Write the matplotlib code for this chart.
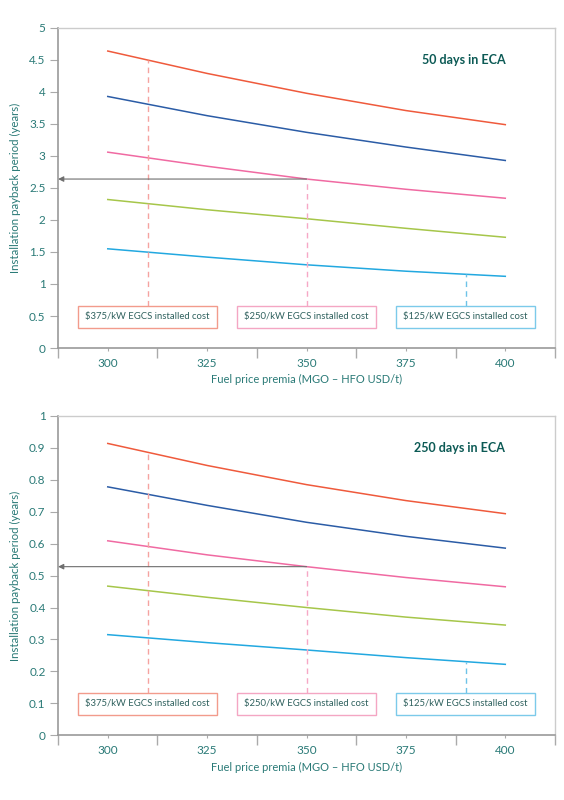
import matplotlib
matplotlib.use("Agg")
import matplotlib.pyplot as plt
from matplotlib.patches import Rectangle
import numpy as np

plt.rcParams["font.family"] = ["Lato", "DejaVu Sans"]

# fuel price premia (MGO - HFO USD/t)
premia = [300, 325, 350, 375, 400]

# payback period (years), 50 days in ECA
cost_375_50 = [4.64, 4.29, 3.98, 3.71, 3.49]
cost_312_50 = [3.93, 3.63, 3.37, 3.14, 2.93]
cost_250_50 = [3.06, 2.84, 2.64, 2.48, 2.34]
cost_187_50 = [2.32, 2.16, 2.02, 1.87, 1.73]
cost_125_50 = [1.55, 1.42, 1.30, 1.20, 1.12]

# payback period (years), 250 days in ECA
cost_375_250 = [0.914, 0.845, 0.785, 0.735, 0.694]
cost_312_250 = [0.778, 0.720, 0.667, 0.623, 0.586]
cost_250_250 = [0.609, 0.565, 0.528, 0.494, 0.465]
cost_187_250 = [0.467, 0.432, 0.400, 0.370, 0.345]
cost_125_250 = [0.315, 0.290, 0.267, 0.243, 0.222]

box_labels = ["$375/kW EGCS installed cost", "$250/kW EGCS installed cost", "$125/kW EGCS installed cost"]
marker_x = [310, 350, 390]

red = "#ef5a3c"
blue = "#2b5ca6"
pink = "#f06aa2"
green = "#a6c64a"
cyan = "#22a8e0"
teal = "#2a7a77"
dark_teal = "#0c5a55"

fig = plt.figure(figsize=(5.64, 8), dpi=100)


def draw_panel(ax, series, ymax, ystep, title):
    colors = [red, blue, pink, green, cyan]
    for ys, c in zip(series, colors):
        ax.plot(premia, ys, color=c, lw=1.1)

    ax.set_xlim(287.5, 412.5)
    ax.set_ylim(0, ymax)
    ax.set_xticks(premia)
    ax.set_xticks(np.arange(287.5, 413, 25), minor=True)
    ax.set_yticks(np.arange(0, ymax + ystep / 2, ystep))
    ax.set_yticklabels([f"{v:g}" for v in np.arange(0, ymax + ystep / 2, ystep)])
    ax.tick_params(axis="x", which="major", length=2, color="#aaaaaa", labelsize=8.5, labelcolor=teal, pad=5)
    ax.tick_params(axis="x", which="minor", length=7, color="#aaaaaa", width=1)
    ax.tick_params(axis="y", length=6, color="#aaaaaa", labelsize=8.5, labelcolor=teal, pad=3)

    for s in ["left", "bottom"]:
        ax.spines[s].set_color("#9a9a9a")
        ax.spines[s].set_linewidth(1.2)
    for s in ["top", "right"]:
        ax.spines[s].set_color("#cccccc")
        ax.spines[s].set_linewidth(1)

    ax.set_xlabel("Fuel price premia (MGO \u2013 HFO USD/t)", color=teal, fontsize=8, labelpad=4)
    ax.set_ylabel("Installation payback period (years)", color=teal, fontsize=8.3, labelpad=6)

    ax.text(400, ymax * 0.9, title, ha="right", va="center", fontsize=9, fontweight="bold", color=dark_teal)

    # label boxes and guide lines
    box_lo = ymax * 0.064
    box_hi = ymax * 0.132
    box_edges = ["#f29b8c", "#f4a6c3", "#7ccaea"]
    dash_cols = ["#f5a3a0", "#f6a8c6", "#6ec3e8"]
    guide_series = [series[0], series[2], series[4]]
    for xm, lab, ec, dc, ys in zip(marker_x, box_labels, box_edges, dash_cols, guide_series):
        yv = np.interp(xm, premia, ys)
        ax.plot([xm, xm], [box_hi, yv], color=dc, lw=1, ls=(0, (4, 3)))
        ax.add_patch(Rectangle((xm - 17.5, box_lo), 35, box_hi - box_lo, fc="white", ec=ec, lw=1, zorder=3))
        ax.text(xm, (box_lo + box_hi) / 2, lab, ha="center", va="center", fontsize=6.8, color="#2f615e", zorder=4)

    # arrow from the $250 curve back to the axis
    ya = np.interp(350, premia, series[2])
    ax.annotate("", xy=(287.5, ya), xytext=(350, ya),
                arrowprops=dict(arrowstyle="-|>", color="#6e6e6e", lw=0.8, mutation_scale=8,
                                shrinkA=0, shrinkB=0))


ax1 = fig.add_axes([0.103, 0.565, 0.881, 0.4])
draw_panel(ax1, [cost_375_50, cost_312_50, cost_250_50, cost_187_50, cost_125_50], 5, 0.5, "50 days in ECA")

ax2 = fig.add_axes([0.103, 0.081, 0.881, 0.399])
draw_panel(ax2, [cost_375_250, cost_312_250, cost_250_250, cost_187_250, cost_125_250], 1, 0.1, "250 days in ECA")

fig.savefig("out.png", dpi=100)
